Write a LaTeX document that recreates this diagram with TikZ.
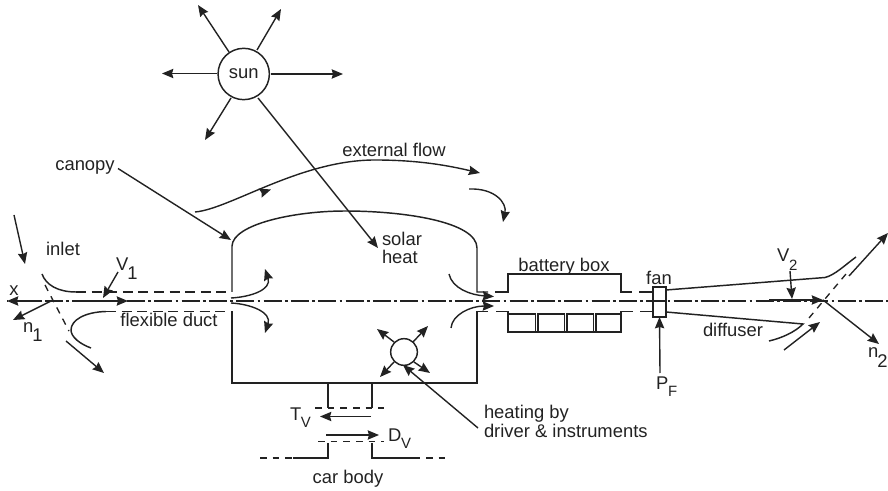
\documentclass[tikz,border=0pt]{standalone}
\usepackage{fontspec}
\setmainfont{Liberation Sans}
\usetikzlibrary{arrows.meta}
\newcommand{\lowsub}[2][0.44em]{\kern-0.6pt\raisebox{-#1}{#2}}
\newcommand{\lowsmall}[2][0.42em]{\kern-0.2pt\raisebox{-#1}{\fontsize{11.2pt}{12pt}\selectfont #2}}
\tikzset{
  x=0.75pt,y=-0.75pt,
  every node/.style={inner sep=0pt,outer sep=0pt,text=ink},
  lbl/.style={font=\fontsize{13.8pt}{14pt}\selectfont,anchor=base},
  sublbl/.style={lbl,anchor=base west},
  wall/.style={draw=ink,line width=1.1pt},
  flow/.style={draw=ink,line width=1.05pt,-{Stealth[length=8.5pt,width=7pt,inset=1pt]}},
  duct/.style={draw=ink,line width=1.05pt,dash pattern=on 7.5pt off 4.2pt},
  shortdash/.style={draw=ink,line width=1pt,dash pattern=on 5pt off 4.5pt},
  axis/.style={draw=ink,line width=1.05pt,dash pattern=on 13.5pt off 2.5pt on 2pt off 2.5pt,dash phase=12.6pt},
  disc/.style={circle,draw=ink,line width=1.1pt,fill=white},
}
\definecolor{ink}{HTML}{222222}
\begin{document}
\begin{tikzpicture}
\useasboundingbox (0,0) rectangle (888,491);
% axis
\coordinate (axL) at (7,301); \coordinate (axR) at (888,301);
\draw[axis] (axL) -- (axR);
\coordinate (xs) at (40,301);
\draw[flow] (xs) -- (axL);
% labels
\node[lbl] (canopy) at (85,171) {canopy};
\node[lbl] (inletL) at (63,256) {inlet};
\node[lbl] (xL) at (14,296) {x};
\node[sublbl] (n1L) at (23,333) {n\lowsub{1}};
\node[sublbl] (v1L) at (116,271) {V\lowsub{1}};
\node[lbl] (fd) at (169,327) {flexible duct};
\node[lbl] (ext) at (394,157) {external flow};
\node[lbl,anchor=base west] (solar) at (382,246) {solar};
\node[lbl,anchor=base west] (heat) at (382,264) {heat};
\node[lbl] (bb) at (564,272) {battery box};
\node[lbl] (fanL) at (659,285) {fan};
\node[sublbl] (pf) at (656,389) {P\lowsmall{F}};
\node[lbl] (dif) at (733,336) {diffuser};
\node[sublbl] (v2L) at (777,262) {V\lowsmall[0.46em]{2}};
\node[sublbl] (n2L) at (868,358) {n\lowsub[0.5em]{2}};
\node[sublbl] (tv) at (290,420) {T\lowsmall{V}};
\node[sublbl] (dv) at (388,441) {D\lowsmall{V}};
\node[lbl] (car) at (348,483) {car body};
\node[lbl,anchor=base west] (heating) at (484,418) {heating by};
\node[lbl,anchor=base west] (driver) at (484,437) {driver \& instruments};
% sun
\node[disc,minimum size=38.5pt,font=\fontsize{13.8pt}{14pt}\selectfont] (sun) at (243.7,74) {sun};
\coordinate (s1) at (162,73.5); \coordinate (s2) at (198,5); \coordinate (s3) at (281,9);
\coordinate (s4) at (343,74); \coordinate (s5) at (205,140); \coordinate (s6) at (378,248);
\draw[flow] (229,52) -- (s2);
\draw[flow] (257,50) -- (s3);
\draw[flow] (217,73.5) -- (s1);
\draw[flow] (271,74) -- (s4);
\draw[flow] (231,98) -- (s5);
\draw[flow] (258,98) -- (s6);
% canopy and cabin
\coordinate (c1) at (232,292); \coordinate (c2) at (477,292);
\coordinate (f1) at (232,311.5); \coordinate (f2) at (477,311.5);
\draw[wall] (c1) -- (232,246) .. controls (233,224) and (295,211) .. (345,211)
  .. controls (405,211) and (477,222) .. (477,248) -- (c2) -- (488,292);
\draw[wall] (f1) -- (232,383) -- (477,383) -- (f2) -- (488,311.5);
\draw[flow] (118,168.5) -- (231,240);
% external flow
\coordinate (e1) at (480,173);
\draw[flow] (195,212) .. controls (230,209) and (300,160) .. (375,160) .. controls (420,160) and (450,166) .. (e1);
\draw[flow] (262,192.5) -- (271,189.5);
\coordinate (e2) at (503,222);
\draw[flow] (469,189) .. controls (495,188) and (507,203) .. (e2);
% inlet
\draw[wall] (42,274) .. controls (46,285) and (58,292) .. (76,292);
\draw[duct] (76,292) -- (c1);
\draw[wall] (91,348) .. controls (80,344) and (71,337) .. (71,330) .. controls (71,320) and (85,312) .. (106,311.5);
\draw[duct] (106,311.5) -- (f1);
\draw[shortdash] (45,285) -- (69,331);
\draw[flow] (14,215) -- (25,264);
\draw[flow] (53,300) -- (13,320);
\draw[flow] (118,272) -- (103,298);
\draw[flow] (75,301) -- (128,301);
\draw[flow] (66,341) -- (104,373);
% cabin flow arrows
\draw[flow] (231,298) .. controls (250,297) and (272,290) .. (265,269);
\draw[flow] (231,303) .. controls (250,304) and (272,312) .. (265,333);
% outlet flow arrows
\draw[flow] (449,274) .. controls (452,288) and (470,295) .. (494,296.5);
\draw[flow] (451,328) .. controls (452,315) and (470,306) .. (494,306);
% battery box
\draw[wall] (495,292) -- (508,292) -- (508,274) -- (621,274) -- (621,292) -- (632,292);
\draw[wall] (639,292) -- (653,292);
\draw[wall] (496,311.5) -- (508,311.5) -- (508,332);
\draw[wall] (621,314) -- (621,311.5) -- (633,311.5);
\draw[wall] (640,311.5) -- (653,311.5);
\draw[wall,line width=1.4pt] (508,332.3) -- (621,332.3);
\foreach \a/\b in {508/535.5,538/564.5,567/593.5,596/621}{
  \draw[wall,line width=1.2pt] (\a,314) rectangle (\b,332);
}
% fan
\node[draw=ink,line width=1.05pt,fill=white,minimum width=9.75pt,minimum height=22.5pt] (fanbox) at (659.5,302) {};
\draw[wall] (653,301) -- (666,301);
\draw[flow] (660,373) -- (fanbox.south);
% diffuser
\draw[wall] (fanbox.east|-0,290) -- (825,277.5) .. controls (835,275) and (845,265) .. (856,257);
\draw[wall] (fanbox.east|-0,312) -- (803,324) .. controls (795,332) and (782,338) .. (769,341);
\draw[shortdash] (809,318) -- (846,274);
\coordinate (o) at (823,300);
\draw[flow] (769,300) -- (o);
\draw[flow] (o) -- (879,344);
\draw[flow] (849,276) -- (888,233);
\draw[flow] (784,350) -- (820,322);
\draw[flow] (790,271) -- (792,299);
% heater
\node[disc,minimum size=20pt] (htr) at (404,352) {};
\draw[flow] (394,342) -- (377,329);
\draw[flow] (413,342) -- (428,326);
\draw[flow] (394,362) -- (380,377);
\draw[flow] (414,362) -- (430,373);
\draw[flow] (478,428) -- (403,365);
% car connection
\draw[wall] (328,383) -- (328,408);
\draw[wall] (372,383) -- (372,408);
\draw[shortdash] (315,408) -- (384,408);
\draw[flow] (371,416.5) -- (320,416.5);
\draw[flow] (326,435) -- (379,435);
\draw[shortdash] (318,441.5) -- (384,441.5);
\draw[wall] (293,458) -- (328,458) -- (328,443);
\draw[wall] (372,443) -- (372,458) -- (420,458);
\draw[shortdash] (260,458) -- (293,458);
\draw[shortdash] (426,458) -- (447,458);
\end{tikzpicture}
\end{document}
